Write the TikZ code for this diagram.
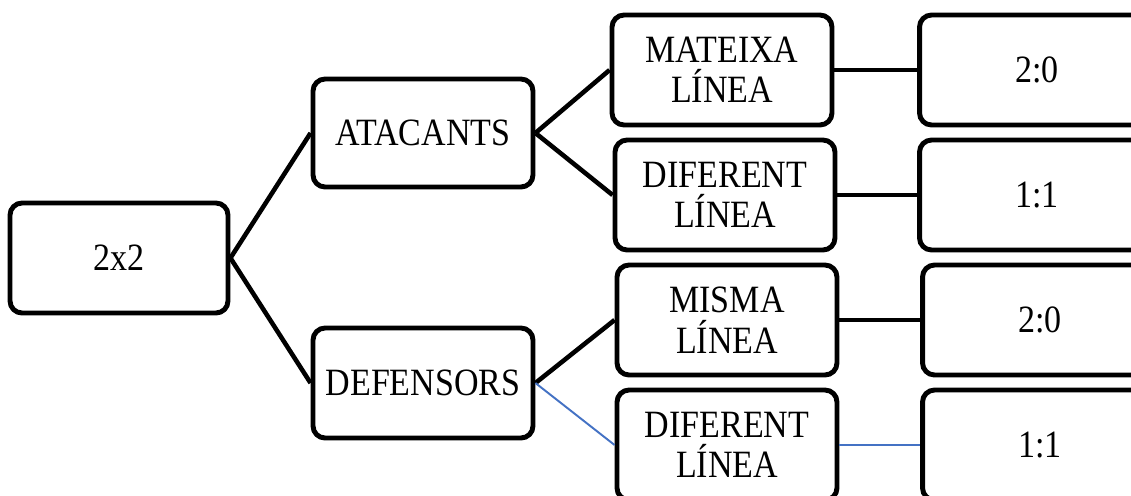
\documentclass[tikz,border=0pt]{standalone}
\usepackage{fontspec}
\setmainfont{Liberation Serif}[FakeStretch=0.88]
\definecolor{linkblue}{RGB}{68,114,196}
\begin{document}
\begin{tikzpicture}[x=0.02cm,y=-0.02cm,
        box/.style={draw, line width=2.8pt, rounded corners=0.24cm, align=center,
            minimum width=4.4cm, minimum height=2.2cm, inner sep=0pt,
            font=\fontsize{22}{23}\selectfont},
        link/.style={line width=2.6pt},
        thin link/.style={line width=1.1pt, linkblue}]
        \path[use as bounding box, clip] (0,0) rectangle (1131,495);
        \node[box, minimum width=4.36cm] (root) at (119,258) {2x2};
        \node[box, minimum height=2.16cm] (atac) at (423,133) {ATACANTS};
        \node[box, minimum height=2.2cm] (def) at (423,383) {DEFENSORS};
        \node[box] (mat) at (722,70) {MATEIXA\\LÍNEA};
        \node[box] (dif1) at (725,195) {DIFERENT\\LÍNEA};
        \node[box] (misma) at (727,320) {MISMA\\LÍNEA};
        \node[box] (dif2) at (727,445) {DIFERENT\\LÍNEA};
        \node[box, minimum width=4.7cm] (res1) at (1037,70) {2:0};
        \node[box, minimum width=4.7cm] (res2) at (1037,195) {1:1};
        \node[box, minimum width=4.7cm] (res3) at (1040,320) {2:0};
        \node[box, minimum width=4.7cm] (res4) at (1040,445) {1:1};
        \draw[link] (root.east) -- (atac.west);
        \draw[link] (root.east) -- (def.west);
        \draw[link] (atac.east) -- (mat.west);
        \draw[link] (atac.east) -- (dif1.west);
        \draw[link] (def.east) -- (misma.west);
        \draw[thin link] (def.east) -- (dif2.west);
        \draw[link] (mat.east) -- (res1.west);
        \draw[link] (dif1.east) -- (res2.west);
        \draw[link] (misma.east) -- (res3.west);
        \draw[thin link] (dif2.east) -- (res4.west);
    \end{tikzpicture}
\end{document}
